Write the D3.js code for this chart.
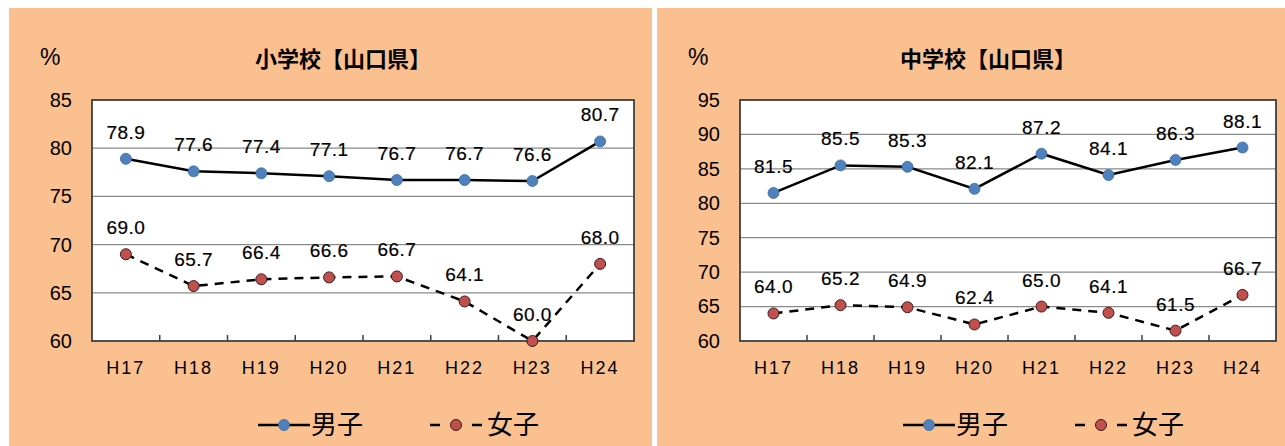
<!DOCTYPE html>
<html>
<head>
<meta charset="utf-8">
<script src="https://cdn.jsdelivr.net/npm/d3@7"></script>
<style>
  body { margin: 0; background: #fff; }
  svg text { font-family: "Liberation Sans", Arial, sans-serif; fill: #000; }
  .jp { font-family: "Noto Sans CJK JP", sans-serif; }
</style>
</head>
<body>
<div id="chart"></div>
<script>
// data
const years = ["H17", "H18", "H19", "H20", "H21", "H22", "H23", "H24"];
const elemBoys = [78.9, 77.6, 77.4, 77.1, 76.7, 76.7, 76.6, 80.7];
const elemGirls = [69.0, 65.7, 66.4, 66.6, 66.7, 64.1, 60.0, 68.0];
const midBoys = [81.5, 85.5, 85.3, 82.1, 87.2, 84.1, 86.3, 88.1];
const midGirls = [64.0, 65.2, 64.9, 62.4, 65.0, 64.1, 61.5, 66.7];
const elemTicks = [60, 65, 70, 75, 80, 85];
const midTicks = [60, 65, 70, 75, 80, 85, 90, 95];

const svg = d3.select("#chart").append("svg")
    .attr("width", 1285)
    .attr("height", 446);

function drawPanel(opts) {
    let g = svg.append("g");

    // panel background
    g.append("rect")
        .attr("x", opts.bx).attr("y", 8)
        .attr("width", opts.bw).attr("height", 438)
        .attr("fill", "#FAC090");

    let x = d3.scaleBand().domain(years).range([opts.left, opts.right]);
    let y = d3.scaleLinear().domain(opts.domain).range([341, 100]);
    let mid = (opts.left + opts.right) / 2;

    g.append("rect")
        .attr("x", opts.left).attr("y", 100)
        .attr("width", opts.right - opts.left).attr("height", 241)
        .attr("fill", "#fff");

    // gridlines
    g.selectAll(".grid").data(opts.ticks.slice(1, -1)).enter().append("line")
        .attr("x1", opts.left).attr("x2", opts.right)
        .attr("y1", d => y(d)).attr("y2", d => y(d))
        .attr("stroke", "#8a8a8a").attr("stroke-width", 1.2);

    // y axis labels
    g.append("g")
        .attr("transform", `translate(${opts.left},0)`)
        .call(d3.axisLeft(y).tickValues(opts.ticks).tickSize(0).tickPadding(20))
        .call(a => a.select(".domain").remove())
        .selectAll("text")
        .style("font-family", "Liberation Sans, Arial, sans-serif")
        .style("font-size", "20px")
        .attr("fill", "#000");

    // x axis labels
    g.append("g")
        .attr("transform", `translate(0,341)`)
        .call(d3.axisBottom(x).tickSize(0).tickPadding(20))
        .call(a => a.select(".domain").remove())
        .selectAll("text")
        .style("font-family", "Liberation Sans, Arial, sans-serif")
        .style("font-size", "18px")
        .style("letter-spacing", "2px")
        .attr("fill", "#000");

    // inner ticks between categories
    g.selectAll(".xt").data(years.slice(1)).enter().append("line")
        .attr("x1", d => x(d)).attr("x2", d => x(d))
        .attr("y1", 341).attr("y2", 335)
        .attr("stroke", "#404040").attr("stroke-width", 1.5);

    // plot border
    g.append("rect")
        .attr("x", opts.left).attr("y", 100)
        .attr("width", opts.right - opts.left).attr("height", 241)
        .attr("fill", "none")
        .attr("stroke", "#404040").attr("stroke-width", 1.8);

    let line = d3.line()
        .x((d, i) => x(years[i]) + x.bandwidth() / 2)
        .y(d => y(d));

    g.append("path").datum(opts.boys).attr("d", line)
        .attr("fill", "none").attr("stroke", "#000").attr("stroke-width", 2.5);
    g.append("path").datum(opts.girls).attr("d", line)
        .attr("fill", "none").attr("stroke", "#000").attr("stroke-width", 2.5)
        .attr("stroke-dasharray", "9,7");

    g.selectAll(".bm").data(opts.boys).enter().append("circle")
        .attr("cx", (d, i) => x(years[i]) + x.bandwidth() / 2)
        .attr("cy", d => y(d)).attr("r", 5.5)
        .attr("fill", "#4F81BD").attr("stroke", "#3a6aa5").attr("stroke-width", 0.8);
    g.selectAll(".gm").data(opts.girls).enter().append("circle")
        .attr("cx", (d, i) => x(years[i]) + x.bandwidth() / 2)
        .attr("cy", d => y(d)).attr("r", 5.5)
        .attr("fill", "#C0504D").attr("stroke", "#3b1a1a").attr("stroke-width", 1);

    // data labels
    [opts.boys, opts.girls].forEach(function(s) {
        g.selectAll(null).data(s).enter().append("text")
            .attr("x", (d, i) => x(years[i]) + x.bandwidth() / 2)
            .attr("y", d => y(d) - 20)
            .attr("text-anchor", "middle")
            .style("font-size", "19px")
            .style("letter-spacing", "0.5px")
            .attr("stroke", "#000").attr("stroke-width", 0.2)
            .text(d => d.toFixed(1));
    });

    // title and unit
    g.append("text").attr("class", "jp")
        .attr("x", mid - 20).attr("y", 67)
        .attr("text-anchor", "middle")
        .style("font-size", "22px").style("font-weight", "bold")
        .text(opts.title);
    g.append("text")
        .attr("x", opts.left - 52).attr("y", 65)
        .style("font-size", "23px")
        .text("%");

    // legend
    let ly = 425;
    g.append("line").attr("x1", mid - 105).attr("x2", mid - 53)
        .attr("y1", ly).attr("y2", ly)
        .attr("stroke", "#000").attr("stroke-width", 2.5);
    g.append("circle").attr("cx", mid - 79).attr("cy", ly).attr("r", 5.5)
        .attr("fill", "#4F81BD").attr("stroke", "#3a6aa5").attr("stroke-width", 0.8);
    g.append("text").attr("class", "jp")
        .attr("x", mid - 52).attr("y", ly + 9)
        .style("font-size", "26px")
        .text("男子");

    g.append("line").attr("x1", mid + 67).attr("x2", mid + 119)
        .attr("y1", ly).attr("y2", ly)
        .attr("stroke", "#000").attr("stroke-width", 2.5)
        .attr("stroke-dasharray", "10,32");
    g.append("circle").attr("cx", mid + 93).attr("cy", ly).attr("r", 5.5)
        .attr("fill", "#C0504D").attr("stroke", "#3b1a1a").attr("stroke-width", 1);
    g.append("text").attr("class", "jp")
        .attr("x", mid + 124).attr("y", ly + 9)
        .style("font-size", "26px")
        .text("女子");
}

drawPanel({bx: 9, bw: 643, left: 92, right: 634, domain: [60, 85], ticks: elemTicks,
    boys: elemBoys, girls: elemGirls, title: "小学校【山口県】"});
drawPanel({bx: 657, bw: 628, left: 740, right: 1276, domain: [60, 95], ticks: midTicks,
    boys: midBoys, girls: midGirls, title: "中学校【山口県】"});
</script>
</body>
</html>
